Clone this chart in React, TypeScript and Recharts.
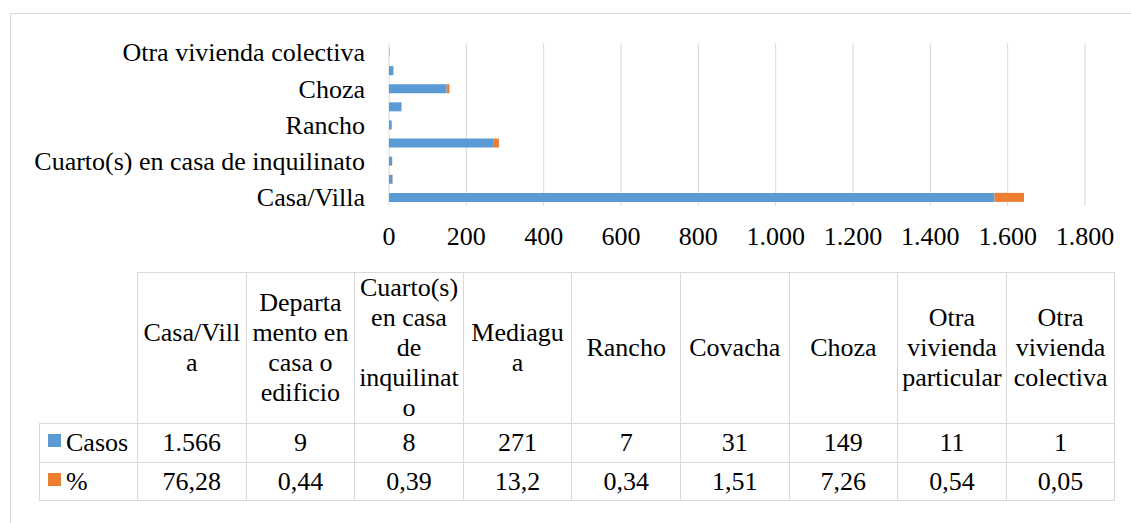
import { BarChart, Bar, XAxis, YAxis, CartesianGrid } from 'recharts';

// vivienda types, bottom to top in the chart, left to right in the table
const categories = [
  'Casa/Villa',
  'Departamento en casa o edificio',
  'Cuarto(s) en casa de inquilinato',
  'Mediagua',
  'Rancho',
  'Covacha',
  'Choza',
  'Otra vivienda particular',
  'Otra vivienda colectiva',
];

// table headers wrap the same way as in the source document
const headerLabels = [
  'Casa/Vill\na',
  'Departa\nmento en\ncasa o\nedificio',
  'Cuarto(s)\nen casa\nde\ninquilinat\no',
  'Mediagu\na',
  'Rancho',
  'Covacha',
  'Choza',
  'Otra\nvivienda\nparticular',
  'Otra\nvivienda\ncolectiva',
];

const casos = [1566, 9, 8, 271, 7, 31, 149, 11, 1];
const porcentaje = [76.28, 0.44, 0.39, 13.2, 0.34, 1.51, 7.26, 0.54, 0.05];
const xTicks = [0, 200, 400, 600, 800, 1000, 1200, 1400, 1600, 1800];

const BLUE = '#5B9BD5';
const ORANGE = '#ED7D31';
const GRID = '#d9d9d9';
const FONT = "'Times New Roman', 'Liberation Serif', 'DejaVu Serif', serif";

const data = categories.map((name, i) => ({ name, casos: casos[i], pct: porcentaje[i] }));

const fmtThousands = (v: number) => String(v).replace(/\B(?=(\d{3})+(?!\d))/g, '.');
const fmtDecimal = (v: number) => String(v).replace('.', ',');

const cell: React.CSSProperties = {
  border: `1px solid ${GRID}`,
  padding: '0 3px',
  textAlign: 'center',
  verticalAlign: 'middle',
};

function LegendKey({ color }: { color: string }) {
  return (
    <span
      style={{
        display: 'inline-block',
        width: 13,
        height: 13,
        background: color,
        marginRight: 5,
        verticalAlign: 4,
      }}
    />
  );
}

export default function App() {
  const tickStyle = { fontSize: 26, fill: '#000', fontFamily: FONT };

  return (
    <div
      style={{
        position: 'absolute',
        left: 0,
        top: 0,
        width: 1131,
        height: 523,
        background: '#fff',
        overflow: 'hidden',
        fontFamily: FONT,
        color: '#000',
      }}
    >
      <div
        style={{
          position: 'absolute',
          left: 10,
          top: 13,
          width: 1300,
          height: 700,
          border: `1px solid ${GRID}`,
        }}
      />
      <div style={{ position: 'absolute', left: 0, top: 0, fontFamily: FONT }}>
        <BarChart
          width={1131}
          height={260}
          data={data}
          layout="vertical"
          margin={{ top: 43, right: 46, left: 0, bottom: 4 }}
          barSize={9}
          style={{ fontFamily: FONT }}
        >
          <CartesianGrid horizontal={false} stroke={GRID} />
          <XAxis
            type="number"
            domain={[0, 1800]}
            ticks={xTicks}
            interval={0}
            tickFormatter={fmtThousands}
            tickLine={false}
            axisLine={false}
            tickMargin={15}
            height={50}
            tick={tickStyle}
          />
          <YAxis
            type="category"
            dataKey="name"
            reversed
            width={389}
            interval={1}
            tickLine={false}
            axisLine={false}
            tickMargin={18}
            tick={tickStyle}
          />
          <Bar dataKey="casos" stackId="a" fill={BLUE} isAnimationActive={false} />
          <Bar dataKey="pct" stackId="a" fill={ORANGE} isAnimationActive={false} />
        </BarChart>
      </div>

      <table
        style={{
          position: 'absolute',
          left: 39,
          top: 272,
          borderCollapse: 'collapse',
          tableLayout: 'fixed',
          width: 98 + 9 * 108.6,
          fontSize: 26,
          lineHeight: 1.15,
          fontFamily: FONT,
        }}
      >
        <colgroup>
          <col style={{ width: 98 }} />
          {categories.map((c) => (
            <col key={c} style={{ width: 108.6 }} />
          ))}
        </colgroup>
        <tbody>
          <tr style={{ height: 151 }}>
            <td style={{ padding: 0 }} />
            {headerLabels.map((h) => (
              <td key={h} style={{ ...cell, whiteSpace: 'pre-line' }}>
                {h}
              </td>
            ))}
          </tr>
          <tr style={{ height: 39 }}>
            <td style={{ ...cell, textAlign: 'left', paddingLeft: 8, whiteSpace: 'nowrap' }}>
              <LegendKey color={BLUE} />
              Casos
            </td>
            {casos.map((v, i) => (
              <td key={i} style={cell}>
                {fmtThousands(v)}
              </td>
            ))}
          </tr>
          <tr style={{ height: 38 }}>
            <td style={{ ...cell, textAlign: 'left', paddingLeft: 8, whiteSpace: 'nowrap' }}>
              <LegendKey color={ORANGE} />
              %
            </td>
            {porcentaje.map((v, i) => (
              <td key={i} style={cell}>
                {fmtDecimal(v)}
              </td>
            ))}
          </tr>
        </tbody>
      </table>
    </div>
  );
}
